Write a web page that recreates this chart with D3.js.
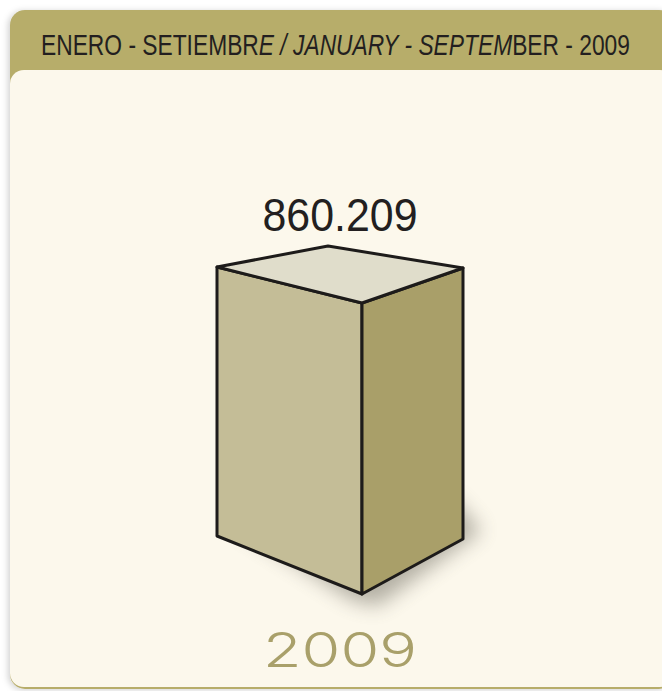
<!DOCTYPE html>
<html>
<head>
<meta charset="utf-8">
<script src="https://cdn.jsdelivr.net/npm/d3@7"></script>
<style>
  body { margin: 0; background: #fff; }
  svg { display: block; }
</style>
</head>
<body>
<div id="chart"></div>
<script>
// data
const years = ["2009"];
const values = [860209];
const valueLabels = ["860.209"];
const headerParts = [
  { text: "ENERO - SETIEMBR", italic: false },
  { text: "E / JANUARY - SEPTEM", italic: true },
  { text: "BER - 2009", italic: false }
];

const W = 662, H = 691;

const svg = d3.select('#chart').append('svg')
  .attr('width', W).attr('height', H);

const defs = svg.append('defs');
const cardShadow = defs.append('filter').attr('id', 'cardShadow')
  .attr('x', '-10%').attr('y', '-10%').attr('width', '120%').attr('height', '120%');
cardShadow.append('feDropShadow')
  .attr('dx', -2).attr('dy', 1).attr('stdDeviation', 3)
  .attr('flood-color', '#000').attr('flood-opacity', 0.18);

const boxShadow = defs.append('filter').attr('id', 'boxShadow')
  .attr('x', '-50%').attr('y', '-50%').attr('width', '200%').attr('height', '200%');
boxShadow.append('feGaussianBlur').attr('stdDeviation', 10);

// card
const card = svg.append('g').attr('filter', 'url(#cardShadow)');
card.append('rect')
  .attr('x', 10).attr('y', 10).attr('width', 664).attr('height', 679)
  .attr('rx', 15).attr('fill', '#b7ad6b');
card.append('rect')
  .attr('x', 10).attr('y', 70).attr('width', 664).attr('height', 617)
  .attr('rx', 14).attr('fill', '#fcf8ec');

// header: pieces laid side by side, then squeezed to the target width
const hg = svg.append('g');
let cx = 0;
headerParts.forEach(p => {
  const t = hg.append('text')
    .attr('x', cx).attr('y', 0)
    .style('font-family', '"Liberation Sans Narrow", "Liberation Sans", sans-serif')
    .style('font-size', '29px')
    .style('font-style', p.italic ? 'italic' : 'normal')
    .attr('fill', '#231f20')
    .text(p.text);
  cx += t.node().getComputedTextLength();
});
hg.attr('transform', 'translate(41,55) scale(' + (589 / cx) + ',1)');

// scales
const x = d3.scaleBand().domain(years).range([217, 463]).padding(0);
const y = d3.scaleLinear().domain([0, d3.max(values)]).range([594, 303]);

// box geometry (front corner split of band + perspective offsets)
const frontFrac = 145 / 246;
const boxes = years.map((yr, i) => {
  const x0 = x(yr), x1 = x0 + x.bandwidth();
  const xf = x0 + x.bandwidth() * frontFrac;
  const fb = y(0), ft = y(values[i]);
  return {
    lt: [x0, ft - 36], lb: [x0, fb - 58],
    ft: [xf, ft], fb: [xf, fb],
    rt: [x1, ft - 35], rb: [x1, fb - 55],
    bt: [x0 + 111, ft - 57],
    label: valueLabels[i], year: yr
  };
});

const g = svg.append('g');
const pts = a => a.map(p => p.join(',')).join(' ');

// shadow
g.selectAll('.shadow').data(boxes).enter().append('polygon')
  .attr('points', d => pts([
    [d.lb[0] + 20, d.lb[1] - 10],
    [d.rb[0] - 10, d.rb[1] - 40],
    [d.rb[0] + 18, d.rb[1] - 8],
    [d.fb[0] + 15, d.fb[1] + 12],
    [d.fb[0] - 10, d.fb[1] + 6]
  ]))
  .attr('fill', '#5a564c').attr('opacity', 0.45)
  .attr('filter', 'url(#boxShadow)');

const stroke = '#1d1b1a', sw = 3;
g.selectAll('.left').data(boxes).enter().append('polygon')
  .attr('points', d => pts([d.lt, d.ft, d.fb, d.lb]))
  .attr('fill', '#c4bd97').attr('stroke', stroke).attr('stroke-width', sw)
  .attr('stroke-linejoin', 'round');
g.selectAll('.right').data(boxes).enter().append('polygon')
  .attr('points', d => pts([d.ft, d.rt, d.rb, d.fb]))
  .attr('fill', '#a99f69').attr('stroke', stroke).attr('stroke-width', sw)
  .attr('stroke-linejoin', 'round');
g.selectAll('.top').data(boxes).enter().append('polygon')
  .attr('points', d => pts([d.lt, d.bt, d.rt, d.ft]))
  .attr('fill', '#e0ddcb').attr('stroke', stroke).attr('stroke-width', sw)
  .attr('stroke-linejoin', 'round');

// value label
g.selectAll('.val').data(boxes).enter().append('text')
  .attr('x', d => d.bt[0] + 12).attr('y', d => d.bt[1] - 15)
  .attr('text-anchor', 'middle')
  .attr('textLength', 155).attr('lengthAdjust', 'spacingAndGlyphs')
  .style('font-family', '"Liberation Sans Narrow", "Liberation Sans", sans-serif')
  .style('font-size', '47px')
  .attr('fill', '#231f20')
  .text(d => d.label);

// year label
g.selectAll('.year').data(boxes).enter().append('text')
  .attr('x', 340).attr('y', 667)
  .attr('text-anchor', 'middle')
  .attr('textLength', 154).attr('lengthAdjust', 'spacingAndGlyphs')
  .style('font-family', 'Inter, "DejaVu Sans", sans-serif')
  .style('font-weight', 300)
  .style('font-size', '48px')
  .attr('fill', '#a9a06a')
  .text(d => d.year);
</script>
</body>
</html>
